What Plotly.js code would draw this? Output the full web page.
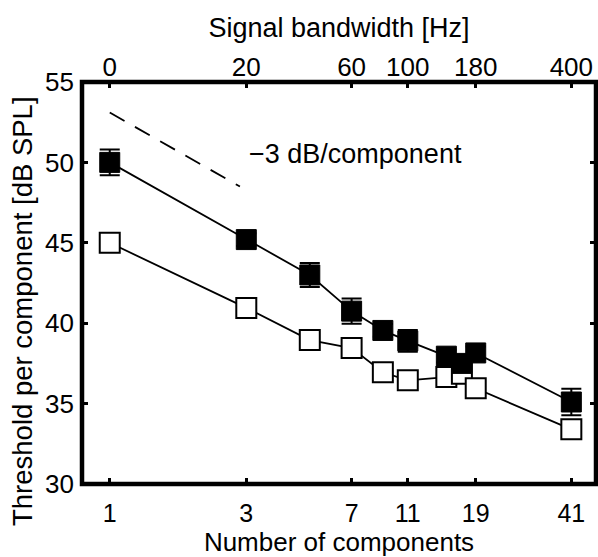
<!DOCTYPE html>
<html>
<head>
<meta charset="utf-8">
<script src="https://cdn.plot.ly/plotly-3.0.1.min.js"></script>
<style>html,body{margin:0;padding:0;background:#fff;}#chart{width:598px;height:557px;}</style>
</head>
<body>
<div id="chart"></div>
<script>
// Number of components (x positions)
var components = [1, 3, 5, 7, 9, 11, 15, 17, 19, 41];
// Filled squares: threshold per component [dB SPL] and error
var filledThreshold = [50.0, 45.2, 43.0, 40.75, 39.55, 38.9, 37.95, 37.5, 38.15, 35.1];
var filledError = [0.8, 0.4, 0.75, 0.78, 0.4, 0.68, 0.4, 0.4, 0.4, 0.82];
// Open squares
var openThreshold = [45.0, 40.95, 38.95, 38.45, 36.95, 36.45, 36.65, 36.85, 35.95, 33.4];
// Reference slope line (-3 dB/component)
var slopeX = [1, 2.85];
var slopeY = [53.1, 48.5];
// Tick labels
var componentTicks = [1, 3, 7, 11, 19, 41];
var componentTickLabels = ['1', '3', '7', '11', '19', '41'];
var bandwidthTickLabels = ['0', '20', '60', '100', '180', '400'];
var yTicks = [30, 35, 40, 45, 50, 55];

var FONT = 'Liberation Sans, Arial, Helvetica, sans-serif';

var traces = [
  {
    x: slopeX, y: slopeY, mode: 'lines', xaxis: 'x', yaxis: 'y',
    line: {color: 'black', width: 1.8, dash: '17px,12px'},
    hoverinfo: 'skip', showlegend: false
  },
  {
    x: components, y: openThreshold, mode: 'lines+markers',
    line: {color: 'black', width: 1.8},
    marker: {symbol: 'square', size: 20, color: 'white', line: {color: 'black', width: 2}},
    showlegend: false
  },
  {
    x: components, y: filledThreshold, mode: 'lines+markers',
    line: {color: 'black', width: 1.8},
    marker: {symbol: 'square', size: 20, color: 'black', line: {color: 'black', width: 1}},
    error_y: {type: 'data', array: filledError, visible: true, color: 'black', thickness: 2, width: 10},
    showlegend: false
  },
  {
    x: componentTicks, y: componentTicks.map(function(){return null;}), xaxis: 'x2', yaxis: 'y',
    mode: 'markers', hoverinfo: 'skip', showlegend: false
  }
];

var xr = [Math.log10(0.8), Math.log10(50)];

var layout = {
  width: 598, height: 557,
  margin: {l: 82, r: 2, t: 82, b: 73, pad: 0},
  paper_bgcolor: 'white', plot_bgcolor: 'white',
  font: {family: FONT, color: 'black', size: 26},
  showlegend: false,
  xaxis: {
    type: 'log', range: xr,
    tickvals: componentTicks, ticktext: componentTickLabels,
    ticks: 'inside', ticklen: 6, tickwidth: 3, tickcolor: 'black',
    ticklabelstandoff: 12,
    showline: false, showgrid: false, zeroline: false,
    tickfont: {family: FONT, size: 25, color: 'black'},
    title: {text: 'Number of components', font: {family: FONT, size: 26, color: 'black'}, standoff: 0}
  },
  xaxis2: {
    type: 'log', range: xr, overlaying: 'x', side: 'top', anchor: 'y',
    tickvals: componentTicks, ticktext: bandwidthTickLabels,
    ticks: 'inside', ticklen: 6, tickwidth: 3, tickcolor: 'black',
    showline: false, showgrid: false, zeroline: false,
    tickfont: {family: FONT, size: 26, color: 'black'},
    title: {text: 'Signal bandwidth [Hz]', font: {family: FONT, size: 27, color: 'black'}, standoff: 6}
  },
  yaxis: {
    range: [30, 55], tickvals: yTicks,
    ticks: 'inside', ticklen: 6, tickwidth: 3, tickcolor: 'black', mirror: 'ticks',
    ticklabelstandoff: 7,
    showline: false, showgrid: false, zeroline: false,
    tickfont: {family: FONT, size: 26, color: 'black'}
  },
  shapes: [{
    type: 'rect', xref: 'paper', yref: 'paper', x0: 0, x1: 1, y0: 0, y1: 1,
    line: {color: 'black', width: 4.5}, layer: 'above'
  }],
  annotations: [
    {
      xref: 'x', yref: 'y', x: Math.log10(3.02), y: 50.55, xanchor: 'left', yanchor: 'middle',
      text: '\u22123 dB/component', showarrow: false,
      font: {family: FONT, size: 27, color: 'black'}
    },
    {
      xref: 'paper', yref: 'paper', x: -0.117, y: 0.43, xanchor: 'center', yanchor: 'middle',
      text: 'Threshold per component [dB SPL]', textangle: -90, showarrow: false,
      font: {family: FONT, size: 27.5, color: 'black'}
    }
  ]
};

Plotly.newPlot('chart', traces, layout, {displayModeBar: false, staticPlot: true});
</script>
</body>
</html>
